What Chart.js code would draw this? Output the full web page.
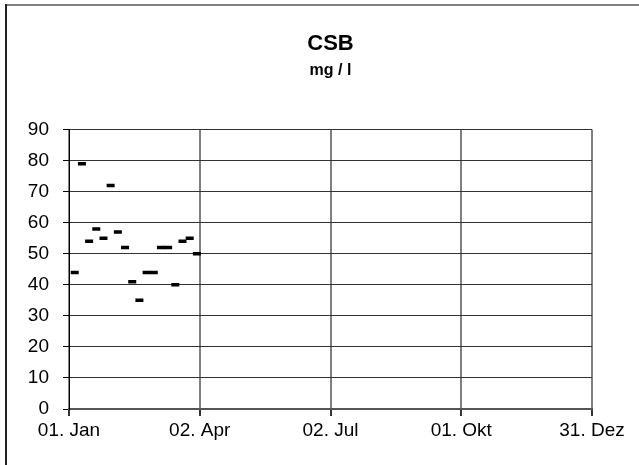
<!DOCTYPE html>
<html>
<head>
<meta charset="utf-8">
<script src="https://cdn.jsdelivr.net/npm/chart.js@4"></script>
<style>
  html, body { margin: 0; padding: 0; background: #fff; }
  #wrap { position: relative; width: 639px; height: 465px; }
</style>
</head>
<body>
<div id="wrap"><canvas id="csbChart" width="639" height="465"></canvas></div>
<script>
// sampling days, counted from 01. Jan (day 0)
const sampleDays = [4, 9, 14, 19, 24, 29, 34, 39, 44, 49, 54, 59, 64, 69, 74, 79, 84, 89];
// CSB in mg / l
const csbValues = [44, 79, 54, 58, 55, 72, 57, 52, 41, 35, 44, 44, 52, 52, 40, 54, 55, 50];

const tickDays = [0, 91, 182, 273, 364];
const tickLabels = ["01. Jan", "02. Apr", "02. Jul", "01. Okt", "31. Dez"];

Chart.defaults.font.family = "'Liberation Sans', Arial, sans-serif";
Chart.defaults.color = "#000";

/************ FRAME (top + left edge of the sheet) ************/
const framePlugin = {
  id: "frame",
  beforeDraw(chart) {
    const ctx = chart.ctx;
    ctx.save();
    ctx.lineWidth = 2;
    ctx.strokeStyle = "#808080";
    ctx.beginPath();
    ctx.moveTo(5, 5);
    ctx.lineTo(chart.width, 5);
    ctx.stroke();
    ctx.strokeStyle = "#222";
    ctx.beginPath();
    ctx.moveTo(6, 4);
    ctx.lineTo(6, chart.height);
    ctx.stroke();
    ctx.restore();
  },
};

const points = sampleDays.map((d, i) => ({ x: d, y: csbValues[i] }));

new Chart(document.getElementById("csbChart"), {
  type: "scatter",
  data: {
    datasets: [
      {
        label: "CSB",
        data: points,
        showLine: false,
        pointStyle: "line",
        pointRadius: 4,
        pointBorderWidth: 3.5,
        borderColor: "#000",
        backgroundColor: "#000",
      },
    ],
  },
  options: {
    responsive: false,
    animation: false,
    layout: { padding: { top: 20, left: 6, right: 47, bottom: 0 } },
    plugins: {
      legend: { display: false },
      tooltip: { enabled: false },
      title: {
        display: true,
        fullSize: false,
        text: "CSB",
        font: { size: 22, weight: "bold" },
        padding: { top: 11, bottom: 2 },
      },
      subtitle: {
        display: true,
        fullSize: false,
        text: "mg / l",
        font: { size: 16, weight: "bold" },
        color: "#000",
        padding: { top: 2, bottom: 49 },
      },
    },
    scales: {
      x: {
        type: "linear",
        min: 0,
        max: 364,
        afterBuildTicks: (scale) => {
          scale.ticks = tickDays.map((v) => ({ value: v }));
        },
        afterFit: (scale) => {
          scale.height = 56;
        },
        ticks: {
          autoSkip: false,
          maxRotation: 0,
          padding: 3,
          font: { size: 19 },
          callback: (v, i) => tickLabels[i],
        },
        grid: {
          color: "#808080",
          lineWidth: 2,
          tickLength: 7,
          tickColor: "#333",
        },
        border: { color: "#555", width: 2 },
      },
      y: {
        min: 0,
        max: 90,
        afterFit: (scale) => {
          scale.width = 63;
        },
        ticks: {
          stepSize: 10,
          padding: 14,
          font: { size: 19 },
        },
        grid: {
          color: "#333",
          lineWidth: 1,
          tickLength: 6,
          tickColor: "#000",
        },
        border: { color: "#000", width: 1 },
      },
    },
  },
  plugins: [framePlugin],
});
</script>
</body>
</html>
